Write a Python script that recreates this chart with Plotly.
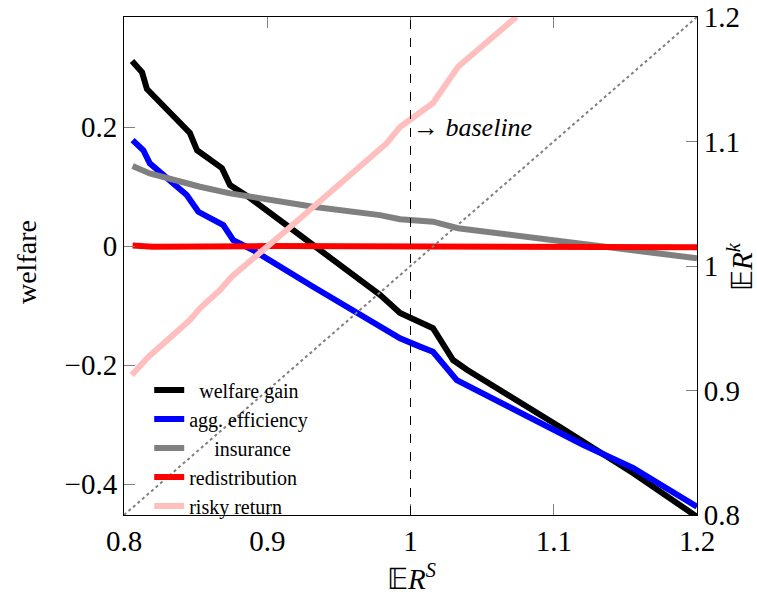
import plotly.graph_objects as go

# ---- data ----
x_welfare = [0.8056, 0.8126, 0.816, 0.846, 0.851, 0.8684, 0.874, 0.888, 0.918, 0.946, 0.9787, 0.9927, 1.0066, 1.0157, 1.0297, 1.0394, 1.1044, 1.1553, 1.2]
welfare_gain = [0.311, 0.292, 0.264, 0.190, 0.161, 0.131, 0.1025, 0.0807, 0.027, -0.0235, -0.082, -0.1126, -0.1277, -0.138, -0.1916, -0.208, -0.304, -0.3815, -0.455]

x_eff = [0.806, 0.8135, 0.818, 0.8438, 0.8519, 0.8693, 0.8763, 0.890, 0.932, 0.9787, 0.9927, 1.0066, 1.0157, 1.0323, 1.0811, 1.1204, 1.1553, 1.2]
agg_efficiency = [0.178, 0.161, 0.139, 0.0857, 0.0576, 0.0353, 0.0101, -0.0067, -0.0684, -0.1356, -0.155, -0.169, -0.1776, -0.2252, -0.287, -0.334, -0.373, -0.438]

x_ins = [0.806, 0.818, 0.853, 0.874, 0.932, 0.9787, 0.9927, 1.0157, 1.0332, 1.2]
insurance = [0.1345, 0.122, 0.0997, 0.0886, 0.066, 0.052, 0.045, 0.041, 0.030, -0.0207]

x_red = [0.806, 0.82, 0.9, 1.0, 1.1, 1.2]
redistribution = [0.001, -0.001, 0.0, 0.0, -0.001, -0.002]

x_risky = [0.8054, 0.817, 0.846, 0.853, 0.867, 0.8752, 0.9136, 0.932, 0.9834, 0.9927, 1.0066, 1.0157, 1.0332, 1.074]
risky_return = [0.9124, 0.927, 0.9566, 0.966, 0.9807, 0.9914, 1.0289, 1.0476, 1.0986, 1.1116, 1.1226, 1.1309, 1.160, 1.2002]

diag_x = [0.8, 1.2]
diag_y = [0.8, 1.2]

x_ticks = [0.8, 0.9, 1.0, 1.1, 1.2]
x_ticklabels = ["0.8", "0.9", "1", "1.1", "1.2"]
y_ticks = [-0.4, -0.2, 0.0, 0.2]
y_ticklabels = ["\u22120.4", "\u22120.2", "0", "0.2"]
y2_ticks = [0.8, 0.9, 1.0, 1.1, 1.2]
y2_ticklabels = ["0.8", "0.9", "1", "1.1", "1.2"]

FONT = "Liberation Serif"
LW = 6
nb = "\u00a0"

fig = go.Figure()
fig.add_trace(go.Scatter(x=x_welfare, y=welfare_gain, mode="lines", name=nb * 2 + "welfare gain",
                         line=dict(color="black", width=LW)))
fig.add_trace(go.Scatter(x=x_eff, y=agg_efficiency, mode="lines", name="agg. efficiency",
                         line=dict(color="#0000ff", width=LW)))
fig.add_trace(go.Scatter(x=x_ins, y=insurance, mode="lines", name=nb * 5 + "insurance",
                         line=dict(color="#808080", width=LW)))
fig.add_trace(go.Scatter(x=x_red, y=redistribution, mode="lines", name="redistribution",
                         line=dict(color="#ff0000", width=LW)))
fig.add_trace(go.Scatter(x=x_risky, y=risky_return, mode="lines", name="risky return", yaxis="y2",
                         line=dict(color="#ffbfbf", width=LW)))
fig.add_trace(go.Scatter(x=diag_x, y=diag_y, mode="lines", yaxis="y2", showlegend=False,
                         line=dict(color="#808080", width=2, dash="dot")))

fig.add_shape(type="line", xref="x", yref="paper", x0=1.0, x1=1.0, y0=0, y1=1,
              line=dict(color="black", width=1, dash="dash"))

fig.add_annotation(x=1.0, y=0.2, xref="x", yref="y", text="\u2192 <i>baseline</i>",
                   showarrow=False, xanchor="left", yanchor="middle",
                   font=dict(family=FONT, size=26, color="black"))

# axis titles placed as annotations
fig.add_annotation(x=-0.171, y=0.508, xref="paper", yref="paper", text="welfare", textangle=-90,
                   showarrow=False, xanchor="center", yanchor="middle",
                   font=dict(family=FONT, size=28, color="black"))
fig.add_annotation(x=1.075, y=0.5, xref="paper", yref="paper",
                   text="\U0001D53C<i>R</i><sup><i>k</i></sup>", textangle=-90,
                   showarrow=False, xanchor="center", yanchor="middle",
                   font=dict(family=FONT, size=29, color="black"))
fig.add_annotation(x=0.501, y=-0.1245, xref="paper", yref="paper",
                   text="\U0001D53C<i>R</i><sup><i>S</i></sup>",
                   showarrow=False, xanchor="center", yanchor="middle",
                   font=dict(family=FONT, size=29, color="black"))

axis_common = dict(ticks="inside", ticklen=11, tickcolor="#808080", showgrid=False, zeroline=False,
                   showline=True, linecolor="black", linewidth=1, automargin=False,
                   tickfont=dict(family=FONT, size=29, color="black"))

fig.update_layout(
    width=757, height=596,
    margin=dict(l=124, r=60, t=17, b=81),
    paper_bgcolor="white", plot_bgcolor="white",
    font=dict(family=FONT, size=28, color="black"),
    showlegend=True,
    legend=dict(x=0.044, y=0.29, xanchor="left", yanchor="top",
                bgcolor="rgba(0,0,0,0)", borderwidth=0,
                font=dict(family=FONT, size=20, color="black"),
                tracegroupgap=0),
    xaxis=dict(range=[0.8, 1.2], tickvals=x_ticks, ticktext=x_ticklabels, mirror="ticks", **axis_common),
    yaxis=dict(range=[-0.452, 0.385], tickvals=y_ticks, ticktext=y_ticklabels, **axis_common),
    yaxis2=dict(range=[0.8, 1.2], tickvals=y2_ticks, ticktext=y2_ticklabels, overlaying="y", side="right",
                **axis_common),
)

fig.write_html("out.html")
